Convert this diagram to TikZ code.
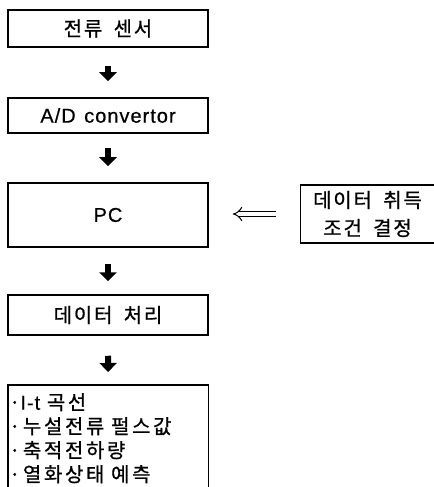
\documentclass[tikz,border=0pt]{standalone}
\usepackage{fontspec}
\setmainfont{Noto Sans CJK KR}[LetterSpace=9,WordSpace=1.8,FakeBold=0.8]
\newfontfamily\listfont{Noto Sans CJK KR}[LetterSpace=13,WordSpace=1.8,FakeBold=0.8]
\newfontfamily\latinfont{Liberation Sans}[LetterSpace=5,WordSpace=1.3,FakeBold=0.6]
\usetikzlibrary{arrows.meta}
\begin{document}
\begin{tikzpicture}[x=1bp,y=-1bp,
  boxstyle/.style={draw, line width=1.5bp, minimum width=200bp, inner sep=0pt, font=\fontsize{20bp}{22bp}\selectfont},
  bigarrow/.style={line width=6bp, -{Triangle[width=17bp,length=9bp]}},
  dblarrow/.style={double, double distance=4bp, line width=1bp, -{Implies}}]
\useasboundingbox (0,0) rectangle (434,487);
\node[boxstyle, minimum height=37bp] (sensor) at (108,28.5) {전류 센서};
\node[boxstyle, minimum height=35bp] (adc) at (108,115.5) {\latinfont A/D convertor};
\node[boxstyle, minimum height=64bp] (pc) at (108,215) {\latinfont PC};
\node[boxstyle, minimum width=134bp, minimum height=58bp, align=center,
      font=\fontsize{20bp}{28bp}\selectfont] (cond) at (367.5,214) {데이터 취득\\조건 결정};
\node[boxstyle, minimum height=40bp] (proc) at (108,315) {데이터 처리};
\node[minimum width=200bp, minimum height=106bp, anchor=north west, inner xsep=1bp, inner ysep=2bp,
      align=left, text width=198bp, font=\listfont\fontsize{20bp}{24bp}\selectfont] (res) at (8,385)
  {·{\latinfont I-t} 곡선\\·누설전류 펄스값\\·축적전하량\\·열화상태 예측};
\draw[line width=1.5bp] (res.south west) -- (res.north west) -- (res.north east) -- (res.south east);
\draw[bigarrow, shorten <=18bp, shorten >=16bp] (sensor.south) -- (adc.north);
\draw[bigarrow, shorten <=14bp, shorten >=16bp] (adc.south) -- (pc.north);
\draw[bigarrow, shorten <=16bp, shorten >=13bp] (pc.south) -- (proc.north);
\draw[bigarrow, shorten <=20bp, shorten >=13bp] (proc.south) -- (res.north);
\draw[dblarrow, shorten <=24bp, shorten >=24bp] (cond.west) -- (cond.west -| pc.east);
\end{tikzpicture}
\end{document}
